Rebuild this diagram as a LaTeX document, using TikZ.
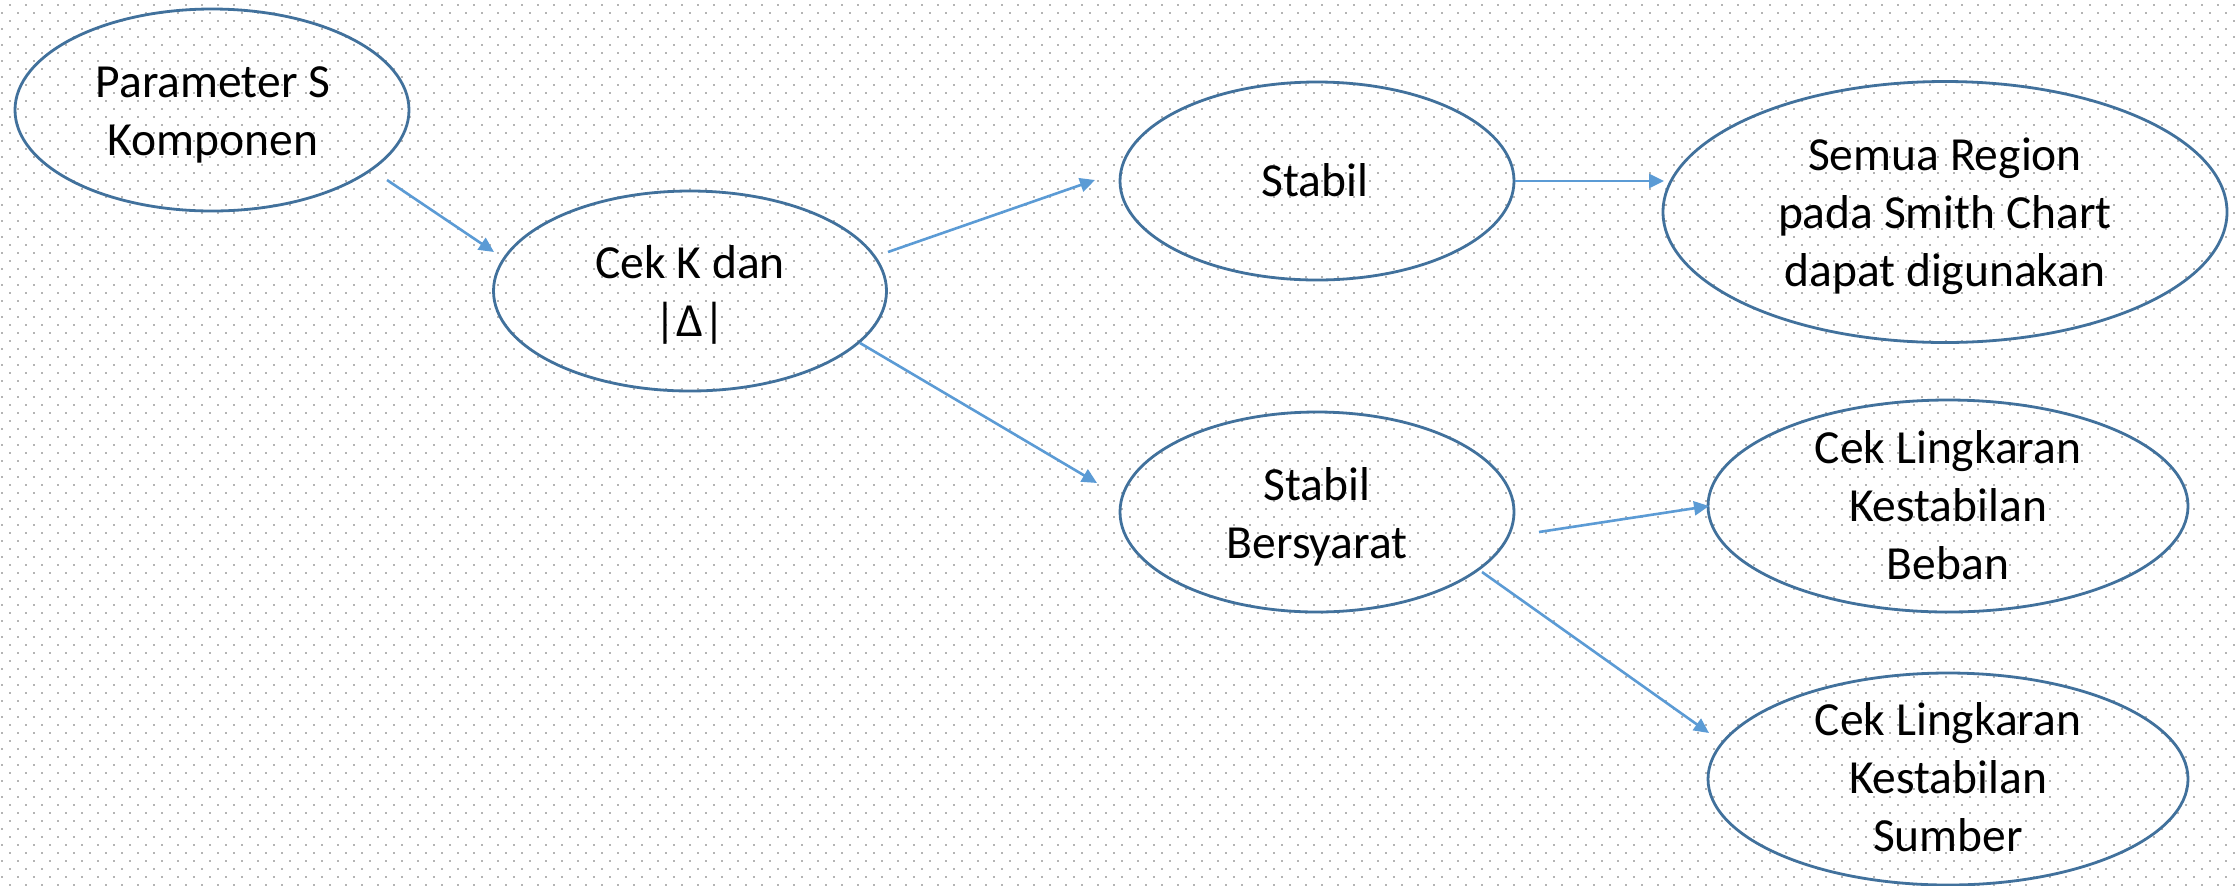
\documentclass[tikz,border=0pt]{standalone}
\usepackage{fontspec}
\newfontfamily\carlito{Carlito}
\usetikzlibrary{shapes.geometric,arrows.meta}
\definecolor{ellc}{HTML}{41719C}
\definecolor{arrc}{HTML}{5B9BD5}
\definecolor{dotc}{HTML}{B4B4B4}
\tikzset{
  ell/.style={ellipse, draw=ellc, line width=1.4pt, inner sep=0pt},
  txt/.style={font=\carlito\fontsize{23.75pt}{29pt}\selectfont, align=center, inner sep=0pt},
  arr/.style={draw=arrc, line width=1.3pt, -{Triangle[length=7.5pt,width=7pt]}},
  dotrow/.style={draw=dotc, line width=1pt, dash pattern=on 1pt off 7pt}
}
\begin{document}
\begin{tikzpicture}[x=0.5pt,y=-0.5pt]
\useasboundingbox (0,0) rectangle (2236,885);
\fill[white] (0,0) rectangle (2236,885);
% dotted background grid
\foreach \y in {4.7,20.7,...,885} {\draw[dotrow] (9,\y) -- (2236,\y);}
\foreach \y in {12.7,28.7,...,885} {\draw[dotrow] (1,\y) -- (2236,\y);}
% ellipses
\node[ell, minimum width=197pt, minimum height=101pt] (e1) at (212,110) {};
\node[ell, minimum width=196.5pt, minimum height=100pt] (e2) at (690,291) {};
\node[ell, minimum width=197pt, minimum height=99pt] (e3) at (1317,181) {};
\node[ell, minimum width=282pt, minimum height=130.5pt] (e4) at (1945,212) {};
\node[ell, minimum width=197pt, minimum height=100pt] (e5) at (1317,512) {};
\node[ell, minimum width=240pt, minimum height=106pt] (e6) at (1948,506) {};
\node[ell, minimum width=240pt, minimum height=106pt] (e7) at (1948,779) {};
% texts
\node[txt] (t1) at (213,115) {Parameter S\\Komponen};
\node[txt] (t2) at (690,295) {Cek K dan\\|Δ|};
\node[txt] (t3) at (1315,180) {Stabil};
\node[txt] (t4) at (1945,216) {Semua Region\\pada Smith Chart\\dapat digunakan};
\node[txt] (t5) at (1317,517) {Stabil\\Bersyarat};
\node[txt] (t6) at (1948,505) {Cek Lingkaran\\Kestabilan\\Beban};
\node[txt] (t7) at (1948,777) {Cek Lingkaran\\Kestabilan\\Sumber};
% connector ends
\coordinate (a1s) at (387,180);  \coordinate (a1e) at (494,252);
\coordinate (a2s) at (888,252);  \coordinate (a2e) at (1095,180);
\coordinate (a3s) at (860,343);  \coordinate (a3e) at (1097,483);
\coordinate (a4e) at (1664,181);
\coordinate (a5s) at (1539,532); \coordinate (a5e) at (1709,506);
\coordinate (a6s) at (1482,572); \coordinate (a6e) at (1709,733);
\draw[arr] (a1s) -- (a1e);
\draw[arr] (a2s) -- (a2e);
\draw[arr] (a3s) -- (a3e);
\draw[arr] (e3.east) -- (a4e);
\draw[arr] (a5s) -- (a5e);
\draw[arr] (a6s) -- (a6e);
\end{tikzpicture}
\end{document}
